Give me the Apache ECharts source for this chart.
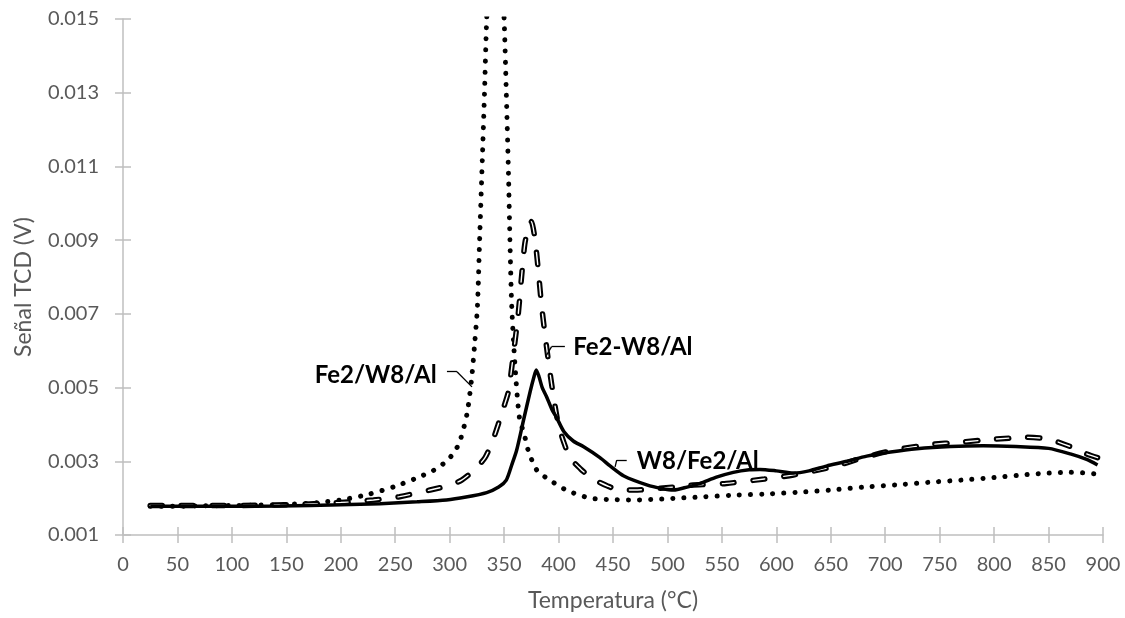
<!DOCTYPE html>
<html>
<head>
<meta charset="utf-8">
<title>TPR</title>
<script src="https://cdn.jsdelivr.net/npm/echarts@6/dist/echarts.min.js"></script>
<style>
  html, body { margin: 0; padding: 0; background: #ffffff; }
  #chart { width: 1125px; height: 618px; }
</style>
</head>
<body>
<div id="chart"></div>
<script>
// TPR profiles: TCD signal (V) versus temperature (°C)

// Fe2/W8/Al (dotted)
const tempA = [25, 50, 75, 100, 125, 150, 175, 200, 225, 250, 270, 285, 297, 305, 310, 316, 320, 323, 325.5, 327.5, 330, 332, 334, 338, 342, 346, 350, 352, 354, 355.5, 357, 360, 364, 369, 372, 380, 392, 407, 429, 450, 470, 490, 510, 530, 560, 590, 620, 650, 680, 710, 740, 770, 800, 830, 850, 870, 885, 895];
const signalA = [0.00178, 0.00178, 0.00179, 0.0018, 0.00181, 0.00183, 0.00187, 0.00195, 0.0021, 0.00232, 0.00255, 0.00275, 0.003, 0.00328, 0.0036, 0.0043, 0.0052, 0.0062, 0.0072, 0.009, 0.0112, 0.013, 0.015, 0.0175, 0.0185, 0.0175, 0.015, 0.013, 0.0108, 0.0088, 0.0072, 0.0056, 0.0042, 0.00367, 0.00331, 0.00276, 0.00249, 0.00222, 0.002, 0.00196, 0.00195, 0.00197, 0.002, 0.00203, 0.00208, 0.00211, 0.00216, 0.00222, 0.0023, 0.00236, 0.00243, 0.00249, 0.00256, 0.00264, 0.00268, 0.0027, 0.00268, 0.00265];

// Fe2-W8/Al (dashed)
const tempB = [25, 50, 100, 150, 200, 230, 254, 282, 300, 311, 322, 332.5, 340, 344.6, 350, 354, 358.5, 363, 366, 369, 372, 375, 378, 381, 384.5, 389, 393.6, 399.8, 405, 410.5, 420, 430.5, 445, 456.5, 470, 487, 505, 521, 554, 589, 615.7, 652, 680, 707.6, 740, 770, 800, 830, 850, 870, 885, 895];
const signalB = [0.0018, 0.0018, 0.0018, 0.00182, 0.00188, 0.00195, 0.00204, 0.00222, 0.00235, 0.00249, 0.00275, 0.0031, 0.0036, 0.004, 0.0045, 0.0049, 0.0059, 0.007, 0.008, 0.0089, 0.0093, 0.0095, 0.0091, 0.0083, 0.0072, 0.0061, 0.0051, 0.004, 0.0035, 0.0031, 0.0028, 0.00254, 0.00233, 0.00222, 0.00222, 0.00225, 0.0023, 0.00235, 0.0024, 0.00252, 0.00263, 0.00285, 0.0031, 0.0033, 0.00345, 0.00352, 0.0036, 0.00365, 0.0036, 0.0034, 0.0032, 0.0031];

// W8/Fe2/Al (solid)
const tempC = [25, 50, 100, 144, 200, 236, 270, 297, 315, 334, 345, 352, 357, 361.5, 367.7, 374, 377.5, 379.5, 382, 385, 389, 394, 398, 405, 413.5, 422.7, 438, 447, 460, 481, 495, 505.6, 518, 530, 545, 560.5, 575, 585, 600, 615.7, 630, 646, 665, 683, 705, 729, 760, 790, 820, 850, 870, 885, 895];
const signalC = [0.00178, 0.00178, 0.00178, 0.00179, 0.00182, 0.00185, 0.0019, 0.00195, 0.00203, 0.00215, 0.0023, 0.00249, 0.0029, 0.0033, 0.0041, 0.0049, 0.0053, 0.00548, 0.0053, 0.005, 0.00475, 0.0044, 0.0042, 0.0038, 0.00355, 0.0034, 0.0031, 0.00288, 0.0026, 0.00236, 0.00226, 0.00222, 0.0023, 0.0024, 0.00257, 0.0027, 0.00277, 0.00278, 0.00274, 0.00268, 0.00274, 0.00287, 0.003, 0.00314, 0.00325, 0.00334, 0.0034, 0.00342, 0.0034, 0.00335, 0.0032, 0.00305, 0.0029];

const seriesNames = ['Fe2/W8/Al', 'Fe2-W8/Al', 'W8/Fe2/Al'];

// Axis ranges and tick steps
const xMin = 0, xMax = 900, xStep = 50;
const yMin = 0.001, yMax = 0.015, yStep = 0.002;
const xTitle = 'Temperatura (°C)';
const yTitle = 'Señal TCD (V)';

// Data-label anchors and leader lines, in data units
const labelA = { at: [288, 0.00534], leader: [[297.5, 0.00543], [306.7, 0.00543], [320.5, 0.00502]] };
const labelB = { at: [413.5, 0.0061], leader: [[389, 0.00588], [393.6, 0.00611], [405.8, 0.00611]] };
const labelC = { at: [471.8, 0.00301], leader: [[451.9, 0.00285], [453.4, 0.00303], [462.6, 0.00303]] };

const zip = (xs, ys) => xs.map((x, i) => [x, ys[i]]);

const FONT = 'Lato, "Open Sans", "DejaVu Sans", sans-serif';
const axisColor = '#bfbfbf';
const textColor = '#595959';

function leaderLines(pts) {
  const segs = [];
  for (let i = 0; i < pts.length - 1; i++) {
    segs.push([{ coord: pts[i] }, { coord: pts[i + 1] }]);
  }
  return {
    silent: true,
    symbol: 'none',
    animation: false,
    label: { show: false },
    lineStyle: { color: '#000000', width: 1.3, type: 'solid' },
    emphasis: { disabled: true },
    data: segs
  };
}

function dataLabel(name, at, side) {
  return {
    silent: true,
    animation: false,
    symbol: 'circle',
    symbolSize: 0,
    itemStyle: { color: 'transparent' },
    label: {
      show: true,
      position: side,
      distance: 0,
      formatter: name,
      color: '#000000',
      fontFamily: FONT,
      fontWeight: 'bold',
      fontSize: 24
    },
    data: [{ coord: at }]
  };
}

const chart = echarts.init(document.getElementById('chart'), null, { renderer: 'canvas' });

const baseX = {
  type: 'value', min: xMin, max: xMax, interval: xStep,
  splitLine: { show: false }
};
const baseY = {
  type: 'value', min: yMin, max: yMax, interval: yStep,
  splitLine: { show: false }
};

chart.setOption({
  animation: false,
  backgroundColor: '#ffffff',
  grid: { left: 123, right: 22, top: 19, bottom: 83, containLabel: false },
  xAxis: [
    Object.assign({}, baseX, {
      position: 'bottom',
      name: xTitle,
      nameLocation: 'middle',
      nameGap: 54,
      nameTextStyle: { fontFamily: FONT, fontSize: 23, color: textColor },
      axisLine: { show: true, lineStyle: { color: axisColor, width: 1.5 } },
      axisTick: { show: true, inside: false, length: 8, lineStyle: { color: axisColor, width: 1.5 } },
      axisLabel: {
        fontFamily: FONT, fontSize: 20, color: textColor, margin: 20,
        formatter: v => String(Math.round(v))
      }
    }),
    Object.assign({}, baseX, {
      position: 'bottom',
      axisLine: { show: false },
      axisTick: { show: true, inside: true, length: 8, lineStyle: { color: axisColor, width: 1.5 } },
      axisLabel: { show: false }
    })
  ],
  yAxis: [
    Object.assign({}, baseY, {
      position: 'left',
      name: yTitle,
      nameLocation: 'middle',
      nameGap: 88,
      nameRotate: 90,
      nameTextStyle: { fontFamily: FONT, fontSize: 23, color: textColor, padding: [0, 20, 0, 0] },
      axisLine: { show: true, lineStyle: { color: axisColor, width: 1.5 } },
      axisTick: { show: true, inside: false, length: 8, lineStyle: { color: axisColor, width: 1.5 } },
      axisLabel: {
        fontFamily: FONT, fontSize: 20, color: textColor, margin: 24,
        formatter: v => v.toFixed(3)
      }
    }),
    Object.assign({}, baseY, {
      position: 'left',
      axisLine: { show: false },
      axisTick: { show: true, inside: true, length: 8, lineStyle: { color: axisColor, width: 1.5 } },
      axisLabel: { show: false }
    })
  ],
  series: [
    {
      name: seriesNames[0],
      type: 'line',
      data: zip(tempA, signalA),
      showSymbol: false,
      smooth: 0.25,
      clip: true,
      lineStyle: { color: '#000000', width: 5, type: [0.1, 11], cap: 'round' },
      markLine: leaderLines(labelA.leader),
      markPoint: dataLabel(seriesNames[0], labelA.at, 'left'),
      z: 2
    },
    {
      name: seriesNames[1],
      type: 'line',
      data: zip(tempB, signalB),
      showSymbol: false,
      smooth: 0.25,
      clip: true,
      lineStyle: { color: '#000000', width: 5.5, type: [12, 19], cap: 'round' },
      markLine: leaderLines(labelB.leader),
      markPoint: dataLabel(seriesNames[1], labelB.at, 'right'),
      z: 3
    },
    {
      // hollow core of the dashed strokes
      name: seriesNames[1] + ' ',
      type: 'line',
      data: zip(tempB, signalB),
      showSymbol: false,
      smooth: 0.25,
      clip: true,
      silent: true,
      lineStyle: { color: '#ffffff', width: 1.4, type: [12, 19], cap: 'round' },
      z: 4
    },
    {
      name: seriesNames[2],
      type: 'line',
      data: zip(tempC, signalC),
      showSymbol: false,
      smooth: 0.25,
      clip: true,
      lineStyle: { color: '#000000', width: 3.5, type: 'solid' },
      markLine: leaderLines(labelC.leader),
      markPoint: dataLabel(seriesNames[2], labelC.at, 'right'),
      z: 5
    }
  ]
});
</script>
</body>
</html>
